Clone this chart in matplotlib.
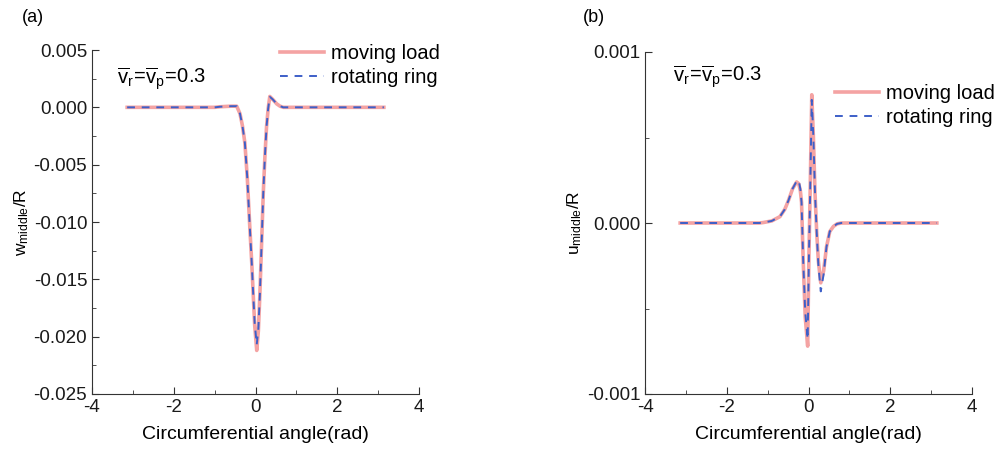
import numpy as np
import matplotlib.pyplot as plt
from matplotlib.ticker import MultipleLocator

plt.rcParams['font.family'] = ['Liberation Sans', 'DejaVu Sans']
plt.rcParams['mathtext.fontset'] = 'custom'
plt.rcParams['mathtext.rm'] = 'Liberation Sans'
plt.rcParams['mathtext.it'] = 'Liberation Sans'
plt.rcParams['axes.unicode_minus'] = False

# (a) radial displacement w/R
angle_w = [-3.14, -2.0, -1.0, -0.87, -0.6, -0.46, -0.38, -0.32, -0.26, -0.2, -0.14,
           -0.09, -0.056, -0.02, 0.03, 0.07, 0.107, 0.15, 0.19, 0.23, 0.27, 0.31,
           0.35, 0.42, 0.52, 0.6, 0.68, 0.75, 1.0, 2.0, 3.14]
w_load = [0.0, 0.0, 0.0, 0.00005, 0.0001, 0.0001, -0.00055, -0.0016, -0.0031, -0.0062, -0.0104,
          -0.0137, -0.0163, -0.0190, -0.0212, -0.0195, -0.0163, -0.0118, -0.0075, -0.0043, -0.0017, -0.0001,
          0.00095, 0.0007, 0.0003, 0.0001, 0.0, 0.0, 0.0, 0.0, 0.0]
w_ring = [0.0, 0.0, 0.0, 0.00005, 0.0001, 0.0001, -0.00055, -0.0016, -0.0031, -0.0062, -0.0104,
          -0.0137, -0.0163, -0.0188, -0.0207, -0.0193, -0.0163, -0.0118, -0.0075, -0.0043, -0.0017, -0.0001,
          0.00092, 0.0007, 0.0003, 0.0001, 0.0, 0.0, 0.0, 0.0, 0.0]

# (b) circumferential displacement u/R
angle_u = [-3.14, -2.0, -1.2, -1.1, -0.9, -0.7, -0.58, -0.49, -0.39, -0.29, -0.24, -0.2,
           -0.17, -0.13, -0.08, -0.02, 0.01, 0.04, 0.08, 0.12, 0.16, 0.2, 0.24,
           0.3, 0.37, 0.44, 0.52, 0.61, 0.7, 0.8, 1.2, 2.0, 3.14]
u_load = [0.0, 0.0, 0.0, 0.000003, 0.000012, 0.000037, 0.00008, 0.000132, 0.0002, 0.00024, 0.00023, 0.00019,
          0.00012, -0.00022, -0.00055, -0.00072, -0.0002, 0.000175, 0.00075, 0.0005, 0.00017, -0.00005, -0.00022,
          -0.00035, -0.00028, -0.00014, -0.00005, -0.00002, -0.000005, 0.0, 0.0, 0.0, 0.0]
u_ring = [0.0, 0.0, 0.0, 0.000003, 0.000012, 0.000037, 0.00008, 0.000132, 0.0002, 0.000245, 0.00025, 0.0002,
          0.00012, -0.00022, -0.00052, -0.00068, -0.0002, 0.000175, 0.00072, 0.0005, 0.00017, -0.00005, -0.00024,
          -0.0004, -0.0003, -0.00014, -0.00005, -0.00002, -0.000005, 0.0, 0.0, 0.0, 0.0]

pink = '#f4a3a3'
blue = '#3d5fc8'
fs = 13.5

fig = plt.figure(figsize=(9.95, 4.55), dpi=100)
ax1 = fig.add_axes([92/995, 1 - 394/455, 327/995, 344/455])
ax2 = fig.add_axes([645/995, 1 - 394/455, 327/995, 342/455])


def fmt(v, p):
    return f'{round(v, 6) + 0.0:.3f}'


def style(ax):
    ax.spines['top'].set_visible(False)
    ax.spines['right'].set_visible(False)
    ax.spines['left'].set_color('#333333')
    ax.spines['bottom'].set_color('#333333')
    ax.tick_params(which='both', direction='in', labelsize=fs, colors='#333333', labelcolor='#1a1a1a')
    ax.tick_params(which='major', length=5)
    ax.tick_params(which='minor', length=3)
    ax.set_xlim(-4, 4)
    ax.xaxis.set_major_locator(MultipleLocator(2))
    ax.xaxis.set_minor_locator(MultipleLocator(1))
    ax.yaxis.set_major_formatter(fmt)
    ax.set_xlabel('Circumferential angle(rad)', fontsize=fs + 0.5, labelpad=7)


ax1.plot(angle_w, w_load, color=pink, lw=2.6, label='moving load')
ax1.plot(angle_w, w_ring, color=blue, lw=1.4, ls=(0, (4, 3.5)), label='rotating ring')
style(ax1)
ax1.set_ylim(-0.025, 0.005)
ax1.yaxis.set_major_locator(MultipleLocator(0.005))
ax1.yaxis.set_minor_locator(MultipleLocator(0.0025))
ax1.set_ylabel(r'$\mathrm{w_{middle}}$/R', fontsize=fs - 1, labelpad=2)
ax1.legend(loc='upper right', bbox_to_anchor=(1.12, 1.07), frameon=False, fontsize=fs + 1,
           handlelength=2.2, handletextpad=0.35, labelspacing=0.25)
ax1.text(0.075, 0.955, r'$\overline{\mathrm{v}}_\mathrm{r}\!=\!\overline{\mathrm{v}}_\mathrm{p}\!=\!0.3$',
         transform=ax1.transAxes, fontsize=fs + 1, va='top')

ax2.plot(angle_u, u_load, color=pink, lw=2.6, label='moving load')
ax2.plot(angle_u, u_ring, color=blue, lw=1.4, ls=(0, (4, 3.5)), label='rotating ring')
style(ax2)
ax2.set_ylim(-0.001, 0.001)
ax2.yaxis.set_major_locator(MultipleLocator(0.001))
ax2.yaxis.set_minor_locator(MultipleLocator(0.0005))
ax2.set_ylabel(r'$\mathrm{u_{middle}}$/R', fontsize=fs - 1, labelpad=2)
ax2.legend(loc='upper right', bbox_to_anchor=(1.125, 0.96), frameon=False, fontsize=fs + 1,
           handlelength=2.2, handletextpad=0.35, labelspacing=0.25)
ax2.text(0.085, 0.965, r'$\overline{\mathrm{v}}_\mathrm{r}\!=\!\overline{\mathrm{v}}_\mathrm{p}\!=\!0.3$',
         transform=ax2.transAxes, fontsize=fs + 1, va='top')

fig.text(22/995, 1 - 18/455, '(a)', fontsize=fs - 0.5, va='center')
fig.text(583/995, 1 - 18/455, '(b)', fontsize=fs - 0.5, va='center')

fig.savefig('out.png', dpi=100)
